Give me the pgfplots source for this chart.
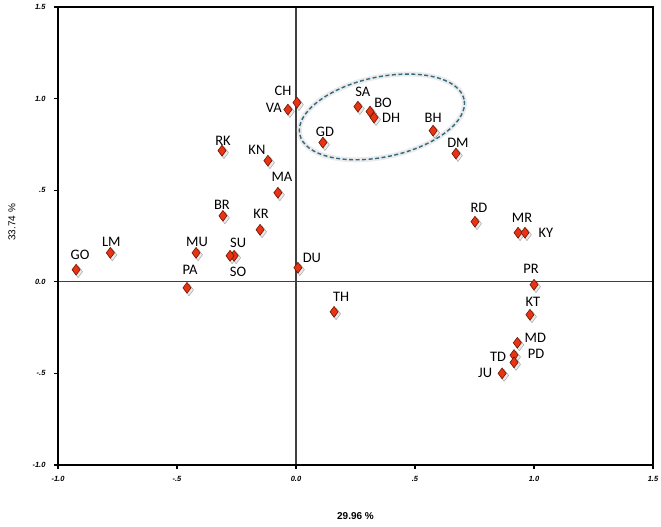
\documentclass[border=0pt]{standalone}
\usepackage{fontspec}
\setmainfont{Liberation Sans}
\newfontfamily\labfont{Carlito}
\usepackage{pgfplots}
\pgfplotsset{compat=1.18}
\usepackage{pgfplotstable}

\definecolor{markred}{RGB}{232,52,20}
\definecolor{markedge}{RGB}{110,20,0}
\definecolor{ringcol}{RGB}{50,105,125}

% x y label, label offset dx dy (pt)
\pgfplotstableread{
x      y      lab dx  dy
-0.924 0.066  GO  4   15
-0.780 0.158  LM  1   11
-0.420 0.158  MU  1   11
-0.458 -0.033 PA  3   18
-0.307 0.360  BR  -1  11
-0.260 0.142  SU  4   13
-0.277 0.142  SO  8   -16
-0.151 0.284  KR  1   16
-0.076 0.486  MA  4   16
0.008  0.077  DU  14  10
0.160  -0.164 TH  7   15
-0.311 0.716  RK  1   10
-0.118 0.661  KN  -11 11
-0.034 0.940  VA  -14 2
0.004  0.978  CH  -14 12
0.113  0.760  GD  2   11
0.260  0.956  SA  5   15
0.311  0.929  BO  13  9
0.328  0.896  DH  17  0
0.576  0.825  BH  0   13
0.672  0.700  DM  2   11
0.752  0.328  RD  4   14
0.933  0.268  MR  4   15
0.962  0.268  KY  21  0
1.000  -0.016 PR  -3  16
0.983  -0.180 KT  3   13
0.930  -0.333 MD  18  5
0.916  -0.400 TD  -16 -2
0.916  -0.440 PD  22  9
0.866  -0.500 JU  -17 0
}\pts

\begin{document}
\begin{tikzpicture}
\begin{axis}[
  scale only axis, width=595pt, height=458pt,
  xmin=-1, xmax=1.5, ymin=-1, ymax=1.5,
  xtick={-1,-0.5,0,0.5,1,1.5}, xticklabels={-1.0,-.5,0.0,.5,1.0,1.5},
  ytick={-1,-0.5,0,0.5,1,1.5}, yticklabels={-1.0,-.5,0.0,.5,1.0,1.5},
  tick align=outside, xtick pos=bottom, ytick pos=left,
  major tick length=4pt,
  tick style={black, line width=1.3pt},
  axis line style={line width=1.6pt},
  tick label style={font=\fontsize{7.5}{8}\selectfont\bfseries\itshape},
  x tick label style={yshift=-4pt},
  y tick label style={xshift=-5pt},
  xlabel={29.96 \%}, ylabel={33.74 \%},
  xlabel style={at={(axis description cs:0.5,-0.1114)},anchor=center,font=\fontsize{10}{12}\selectfont\bfseries},
  ylabel style={at={(axis description cs:-0.0773,0.53)},anchor=center,font=\fontsize{10}{12}\selectfont},
  clip=false,
]
% zero lines
\draw[black!75, line width=1.2pt] (axis cs:0,-1) -- (axis cs:0,1.5);
\draw[black!75, line width=1.2pt] (axis cs:-1,0) -- (axis cs:1.5,0);

% highlighted group
\draw[black!8, line width=5pt, rotate around={12:(axis cs:0.361,0.90)}]
  (axis cs:0.361,0.90) ellipse [x radius=84pt, y radius=40pt];
\draw[ringcol, line width=1.4pt, dash pattern=on 4pt off 2.5pt, rotate around={12:(axis cs:0.361,0.90)}]
  (axis cs:0.361,0.90) ellipse [x radius=84pt, y radius=40pt];

% marker shadows
\addplot[only marks, mark=diamond*, mark size=6pt, forget plot,
  mark options={draw=none, fill=black!25, opacity=0.35, xshift=2pt, yshift=-2pt}]
  table[x=x, y=y]{\pts};

\addplot[only marks, mark=diamond*, mark size=5.4pt,
  mark options={fill=markred, draw=markedge, line width=0.6pt},
  point meta=explicit symbolic,
  visualization depends on={\thisrow{dx} \as \dx},
  visualization depends on={\thisrow{dy} \as \dy},
  nodes near coords,
  nodes near coords style={anchor=center, xshift=\dx pt, yshift=\dy pt,
    font=\labfont\fontsize{14.5}{16}\selectfont, text=black}]
  table[x=x, y=y, meta=lab]{\pts};

% frame, drawn last
\draw[black, line width=1.6pt] (rel axis cs:0,0) rectangle (rel axis cs:1,1);
\end{axis}
\pgfresetboundingbox
\path (-58pt,-62pt) rectangle (603pt,465pt);
\end{tikzpicture}
\end{document}
